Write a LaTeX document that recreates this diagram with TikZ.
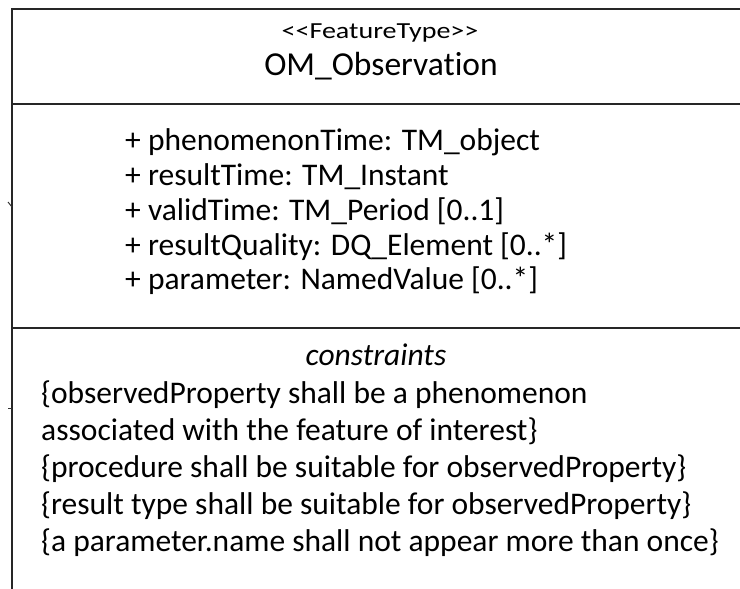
\documentclass[tikz,border=0pt]{standalone}
\usepackage{fontspec}
\setmainfont{Carlito}[Ligatures={NoCommon}]
\begin{document}
\begin{tikzpicture}[x=1pt,y=-1pt,
  frame/.style={line width=2pt,draw=black!85},
  stereo/.style={anchor=base,inner sep=0pt,font=\fontsize{23}{27}\selectfont},
  cname/.style={anchor=base,inner sep=0pt,font=\fontsize{33.5}{40}\selectfont},
  attr/.style={anchor=base west,inner sep=0pt,font=\fontsize{31.5}{38}\selectfont},
  ctitle/.style={anchor=base,inner sep=0pt,font=\fontsize{31.5}{38}\selectfont\itshape},
  cons/.style={anchor=base west,inner sep=0pt,font=\fontsize{31.5}{38}\selectfont}]
\useasboundingbox (0,0) rectangle (740,589);
\coordinate (tl) at (12,9);
\coordinate (tr) at (740,9);
\coordinate (bl) at (12,589);
\coordinate (s1l) at (12,104);
\coordinate (s1r) at (740,104);
\coordinate (s2l) at (12,328);
\coordinate (s2r) at (740,328);
\draw[frame] (tr) -- (tl) -- (bl);
\draw[frame] (s1l) -- (s1r);
\draw[frame] (s2l) -- (s2r);
\coordinate (m1a) at (8,202);
\coordinate (m1b) at (12,207);
\coordinate (m2a) at (8,408);
\coordinate (m2b) at (12,408);
\draw[line width=1pt,black!80] (m1a) -- (m1b);
\draw[line width=1pt,black!80] (m2a) -- (m2b);
\node[stereo] (st) at (380,38) {\scalebox{1.22}[1]{<{}<FeatureType>{}>}};
\node[cname] (cn) at (381,75) {OM\_Observation};
\node[attr] (a1) at (125,150) {+ phenomenonTime: TM\_object};
\node[attr] (a2) at (125,185) {+ resultTime: TM\_Instant};
\node[attr] (a3) at (125,220) {+ validTime: TM\_Period [0..1]};
\node[attr] (a4) at (125,255) {+ resultQuality: DQ\_Element [0..*]};
\node[attr] (a5) at (125,289) {+ parameter: NamedValue [0..*]};
\node[ctitle] (ct) at (376,365) {constraints};
\node[cons] (c1) at (41,403) {\{observedProperty shall be a phenomenon};
\node[cons] (c2) at (41,440) {associated with the feature of interest\}};
\node[cons] (c3) at (41,477) {\{procedure shall be suitable for observedProperty\}};
\node[cons] (c4) at (41,514) {\{result type shall be suitable for observedProperty\}};
\node[cons] (c5) at (41,551) {\{a parameter.name shall not appear more than once\}};
\end{tikzpicture}
\end{document}
